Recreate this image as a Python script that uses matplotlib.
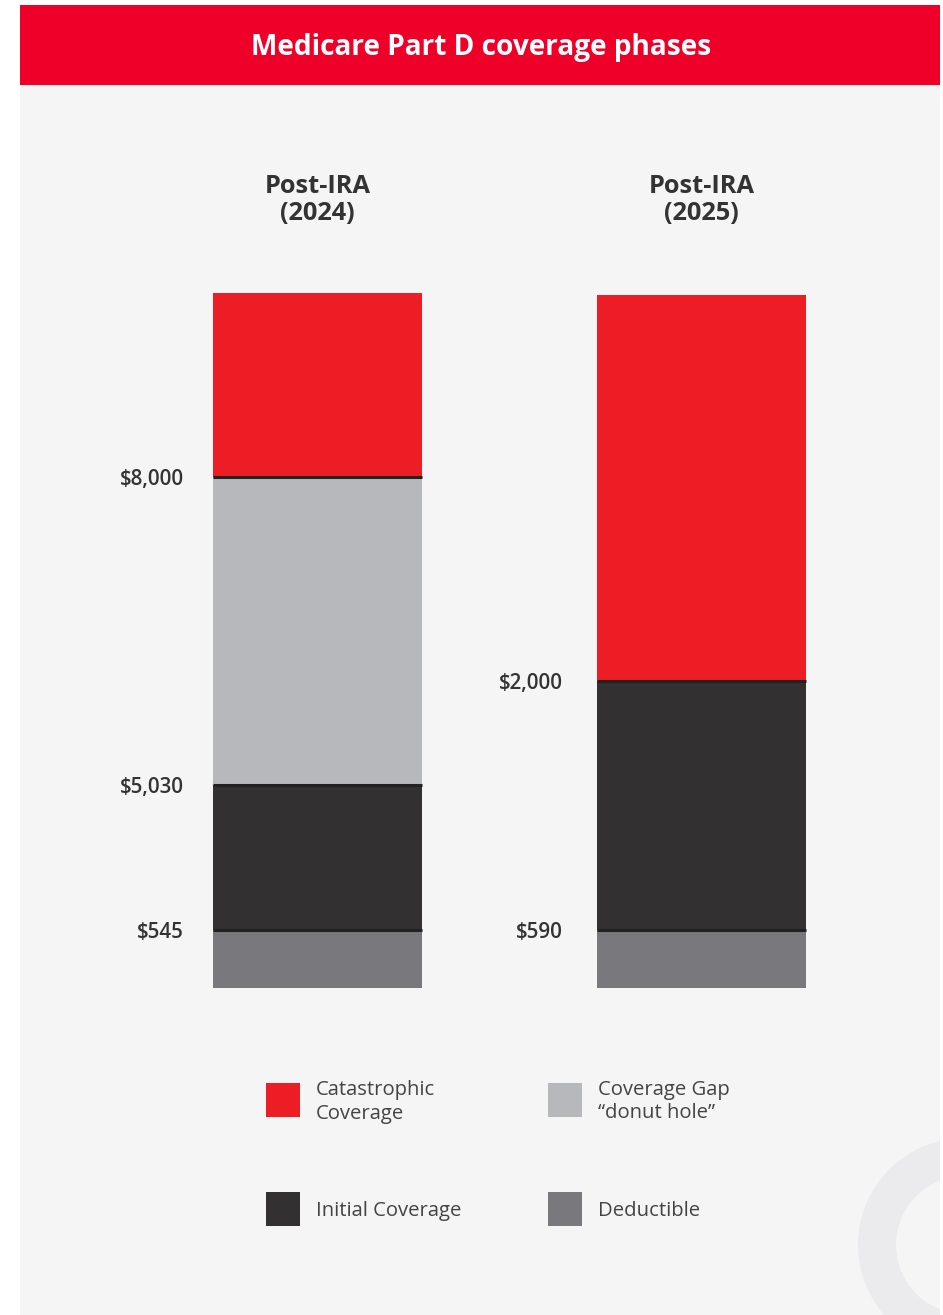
import numpy as np
from matplotlib import pyplot as plt
from matplotlib.patches import Rectangle, Wedge

plt.rcParams['font.family'] = ['Open Sans', 'DejaVu Sans']

# data (schematic segment heights, bottom to top, as drawn in the source)
years = ["Post-IRA\n(2024)", "Post-IRA\n(2025)"]
phases = ["Deductible", "Initial Coverage", "Coverage Gap\n\u201cdonut hole\u201d", "Catastrophic\nCoverage"]
colors = ["#79797d", "#323031", "#b7b8bb", "#ed1d25"]
heights = {
    "Post-IRA\n(2024)": [58, 145, 308, 184],
    "Post-IRA\n(2025)": [58, 249, 0, 386],
}
thresholds = {
    "Post-IRA\n(2024)": ["$545", "$5,030", "$8,000"],
    "Post-IRA\n(2025)": ["$590", "$2,000"],
}

W, H = 943, 1315
fig = plt.figure(figsize=(W / 100, H / 100), dpi=100)
fig.patch.set_facecolor("white")

def fx(px):
    return px / W

def fy(py):
    return 1 - py / H

# panel background + header
fig.add_artist(Rectangle((fx(20), 0), fx(920), fy(85), transform=fig.transFigure,
                         facecolor="#f5f5f5", edgecolor="none", zorder=0))
fig.add_artist(Rectangle((fx(20), fy(85)), fx(920), 80 / H, transform=fig.transFigure,
                         facecolor="#ee0029", edgecolor="none", zorder=1))
fig.text(fx(481), fy(47), "Medicare Part D coverage phases", color="white",
         fontsize=20.2, fontweight="bold", ha="center", va="center")

# decorative ring bottom right
deco = fig.add_axes([fx(20), 0, fx(920), fy(85)])
deco.set_xlim(20, 940)
deco.set_ylim(1315, 85)
deco.axis("off")
deco.add_patch(Wedge((965, 1245), 107, 0, 360, width=38, facecolor="#ebebed",
                     edgecolor="none"))

# bars
ax = fig.add_axes([fx(20), fy(988), fx(920), 695 / H])
ax.set_xlim(-(317.5 - 20) / 384, 1 + (940 - 701.5) / 384)
ax.set_ylim(0, 695)
ax.axis("off")
width = 209 / 384
top = max(sum(v) for v in heights.values())

x = np.arange(len(years))
for i, yr in enumerate(years):
    h = np.array(heights[yr])
    bottoms = np.concatenate([[0], np.cumsum(h)[:-1]])
    ax.bar(np.full(len(h), x[i]), h, bottom=bottoms, width=width, color=colors,
           edgecolor="none", zorder=2)
    bounds = [b for b, hh in zip(np.cumsum(h)[:-1], h[1:]) if hh > 0]
    ax.hlines(bounds, x[i] - width / 2, x[i] + width / 2, color="#222222",
              linewidth=2.2, zorder=3)
    for b, lab in zip(bounds, thresholds[yr]):
        ax.annotate(lab, (x[i] - width / 2, b), xytext=(-29 - 5 * i, -2),
                    textcoords="offset pixels", ha="right", va="center",
                    fontsize=14.8, fontweight="semibold", color="#333333")
    ax.annotate(yr, (x[i], top), xytext=(0, 67), textcoords="offset pixels",
                ha="center", va="bottom", fontsize=18.3, fontweight="bold",
                color="#333333", linespacing=1.1)

# legend
order = [3, 2, 1, 0]
leg_x = [266, 548]
leg_y = [1100, 1209]
for k, idx in enumerate(order):
    px = leg_x[k % 2]
    py = leg_y[k // 2]
    fig.add_artist(Rectangle((fx(px), fy(py + 17)), fx(34), 34 / H,
                             transform=fig.transFigure, facecolor=colors[idx],
                             edgecolor="none"))
    fig.text(fx(px + 50), fy(py + 2), phases[idx], fontsize=14.6, color="#444444",
             ha="left", va="center", linespacing=1.2)

plt.savefig("out.png", dpi=100)
